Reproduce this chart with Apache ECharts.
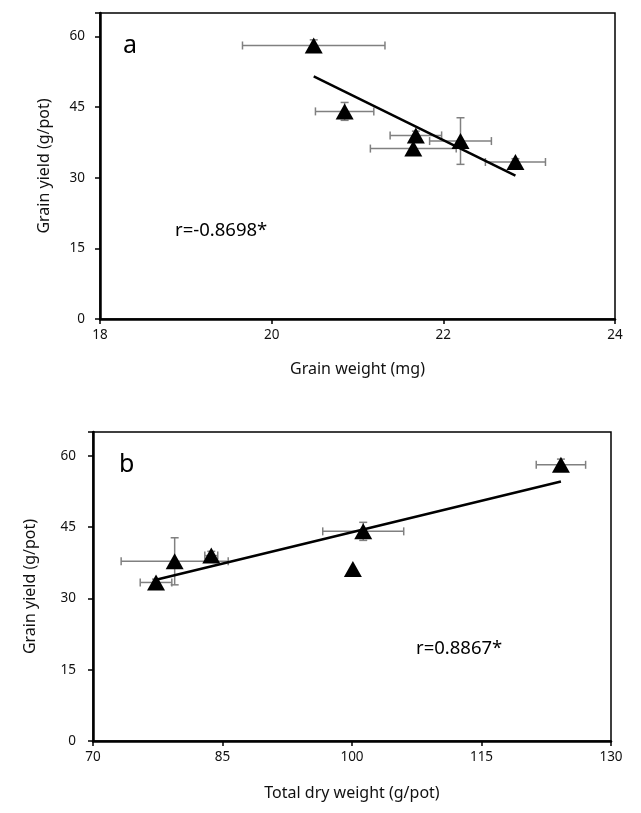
<!DOCTYPE html>
<html>
<head>
<meta charset="utf-8">
<script src="https://cdn.jsdelivr.net/npm/echarts@6/dist/echarts.min.js"></script>
<style>
html,body{margin:0;padding:0;background:#fff;}
#c{width:641px;height:813px;}
</style>
</head>
<body>
<div id="c"></div>
<script>
// Shared grain yield values (g/pot) and their errors
const grainYield    = [58.1, 44.1, 39.0, 36.2, 37.8, 33.35];
const grainYieldErr = [1.2, 1.9, 0.9, 0.0, 4.95, 0.7];
// Panel a: grain weight (mg)
const grainWeight    = [20.49, 20.85, 21.68, 21.65, 22.20, 22.84];
const grainWeightErr = [0.83, 0.34, 0.30, 0.50, 0.36, 0.35];
// Panel b: total dry weight (g/pot)
const dryWeight    = [124.2, 101.3, 83.7, 100.1, 79.46, 77.3];
const dryWeightErr = [2.86, 4.69, 0.75, 0.0, 6.2, 1.83];

const yTicks = [0, 15, 30, 45, 60];
const labelA = 'r=-0.8698*';
const labelB = 'r=0.8867*';

function fit(xs, ys) {
  const n = xs.length;
  const mx = xs.reduce((a,b)=>a+b,0)/n, my = ys.reduce((a,b)=>a+b,0)/n;
  let sxy=0, sxx=0;
  for (let i=0;i<n;i++){ sxy+=(xs[i]-mx)*(ys[i]-my); sxx+=(xs[i]-mx)**2; }
  const k = sxy/sxx, b = my - k*mx;
  const x0 = Math.min(...xs), x1 = Math.max(...xs);
  return [[x0, k*x0+b],[x1, k*x1+b]];
}

const FONT = 'Noto Sans';
const chart = echarts.init(document.getElementById('c'), null, {renderer:'canvas'});

function errSeries(idx, xs, ys, xe, ye) {
  const data = xs.map((x,i)=>[x, ys[i], xe[i], ye[i]]);
  return {
    type:'custom', xAxisIndex:idx, yAxisIndex:idx, z:2, silent:true,
    data,
    renderItem(params, api){
      const x=api.value(0), y=api.value(1), dx=api.value(2), dy=api.value(3);
      const children=[];
      const st={stroke:'#808080', lineWidth:1.5};
      if (dx>0){
        const p0=api.coord([x-dx,y]), p1=api.coord([x+dx,y]);
        children.push({type:'line',shape:{x1:p0[0],y1:p0[1],x2:p1[0],y2:p1[1]},style:st});
        children.push({type:'line',shape:{x1:p0[0],y1:p0[1]-4,x2:p0[0],y2:p0[1]+4},style:st});
        children.push({type:'line',shape:{x1:p1[0],y1:p1[1]-4,x2:p1[0],y2:p1[1]+4},style:st});
      }
      if (dy>0){
        const p0=api.coord([x,y-dy]), p1=api.coord([x,y+dy]);
        children.push({type:'line',shape:{x1:p0[0],y1:p0[1],x2:p1[0],y2:p1[1]},style:st});
        children.push({type:'line',shape:{x1:p0[0]-4,y1:p0[1],x2:p0[0]+4,y2:p0[1]},style:st});
        children.push({type:'line',shape:{x1:p1[0]-4,y1:p1[1],x2:p1[0]+4,y2:p1[1]},style:st});
      }
      return {type:'group', children};
    }
  };
}

function xAx(idx, min, max, interval, name, gap){
  return {
    type:'value', gridIndex:idx, min, max, interval,
    name, nameLocation:'middle', nameGap:gap,
    nameTextStyle:{fontFamily:FONT, fontSize:16, color:'#111'},
    axisLine:{show:true, onZero:false, lineStyle:{color:'#000', width:2.5}},
    axisTick:{show:true, inside:false, length:5, lineStyle:{color:'#000', width:1.5}},
    axisLabel:{fontFamily:FONT, fontSize:13.5, color:'#111', margin:9},
    splitLine:{show:false}
  };
}
function yAx(idx, name, gap, margin){
  return {
    type:'value', gridIndex:idx, min:0, max:65, interval:15,
    name, nameLocation:'middle', nameGap:gap,
    nameTextStyle:{fontFamily:FONT, fontSize:16, color:'#111'},
    axisLine:{show:true, onZero:false, lineStyle:{color:'#000', width:2.5}},
    axisTick:{show:true, inside:false, length:5, lineStyle:{color:'#000', width:1.5}},
    axisLabel:{fontFamily:FONT, fontSize:13.5, color:'#111', margin,
      formatter:v=> yTicks.includes(v) ? String(v) : ''},
    splitLine:{show:false}
  };
}

const trendA = fit(grainWeight, grainYield);
const trendB = fit(dryWeight, grainYield);

chart.setOption({
  animation:false,
  backgroundColor:'#fff',
  grid:[
    {left:100, top:13, width:515, height:306, show:true, borderColor:'#000', borderWidth:1.5, backgroundColor:'transparent'},
    {left:93, top:432, width:518, height:309, show:true, borderColor:'#000', borderWidth:1.5, backgroundColor:'transparent'}
  ],
  xAxis:[
    xAx(0, 18, 24, 2, 'Grain weight (mg)', 42),
    xAx(1, 70, 130, 15, 'Total dry weight (g/pot)', 44)
  ],
  yAxis:[
    yAx(0, 'Grain yield (g/pot)', 48, 15),
    yAx(1, 'Grain yield (g/pot)', 55, 17)
  ],
  graphic:[
    {type:'text', left:123, top:33, style:{text:'a', font:'25px "Noto Sans"', fill:'#000'}},
    {type:'text', left:119, top:452, style:{text:'b', font:'25px "Noto Sans"', fill:'#000'}},
    {type:'text', left:175, top:221, style:{text:labelA, font:'18.5px "Noto Sans"', fill:'#000'}},
    {type:'text', left:416, top:639, style:{text:labelB, font:'18.5px "Noto Sans"', fill:'#000'}}
  ],
  series:[
    errSeries(0, grainWeight, grainYield, grainWeightErr, grainYieldErr),
    errSeries(1, dryWeight, grainYield, dryWeightErr, grainYieldErr),
    {type:'line', xAxisIndex:0, yAxisIndex:0, data:trendA, symbol:'none', z:3,
      lineStyle:{color:'#000', width:2.5}},
    {type:'line', xAxisIndex:1, yAxisIndex:1, data:trendB, symbol:'none', z:3,
      lineStyle:{color:'#000', width:2.5}},
    {type:'scatter', xAxisIndex:0, yAxisIndex:0, z:4, symbol:'triangle', symbolSize:[18,16],
      itemStyle:{color:'#000', opacity:1}, data:grainWeight.map((x,i)=>[x, grainYield[i]])},
    {type:'scatter', xAxisIndex:1, yAxisIndex:1, z:4, symbol:'triangle', symbolSize:[18,16],
      itemStyle:{color:'#000', opacity:1}, data:dryWeight.map((x,i)=>[x, grainYield[i]])}
  ]
});
</script>
</body>
</html>
